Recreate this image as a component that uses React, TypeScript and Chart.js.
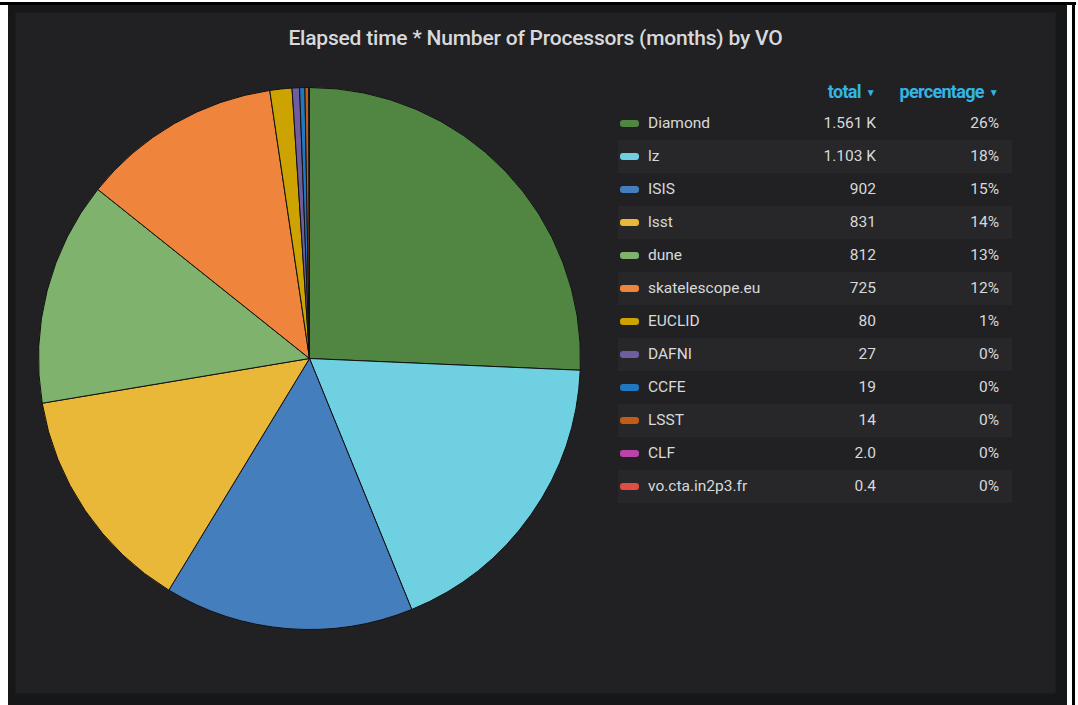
import React, { useEffect, useRef } from "react";
import { Chart, registerables } from "chart.js";

Chart.register(...registerables);

const TITLE = "Elapsed time * Number of Processors (months) by VO";
const categories = [
  "Diamond",
  "lz",
  "ISIS",
  "lsst",
  "dune",
  "skatelescope.eu",
  "EUCLID",
  "DAFNI",
  "CCFE",
  "LSST",
  "CLF",
  "vo.cta.in2p3.fr",
];
const totals = [1561, 1103, 902, 831, 812, 725, 80, 27, 19, 14, 2.0, 0.4];
const colors = [
  "#508642",
  "#6ED0E0",
  "#447EBC",
  "#EAB839",
  "#7EB26D",
  "#EF843C",
  "#CCA300",
  "#705DA0",
  "#1F78C1",
  "#C15C17",
  "#BA43A9",
  "#E24D42",
];
const headers = ["total", "percentage"];

const fmtTotal = (v: number) => {
  if (v >= 1000) return (v / 1000).toFixed(3) + " K";
  if (v >= 10) return v.toFixed(0);
  return v.toFixed(1);
};

export default function App() {
  const ref = useRef<HTMLCanvasElement | null>(null);
  useEffect(() => {
    if (!ref.current) return;
    const chart = new Chart(ref.current, {
      type: "pie",
      data: {
        labels: categories,
        datasets: [
          {
            data: totals,
            backgroundColor: colors,
            borderColor: "#111113",
            borderWidth: 1,
          },
        ],
      },
      options: {
        animation: false,
        responsive: false,
        maintainAspectRatio: false,
        layout: { padding: 0 },
        plugins: {
          legend: { display: false },
          tooltip: { enabled: false },
          title: { display: false },
        },
      },
    });
    return () => chart.destroy();
  }, []);

  const sum = totals.reduce((a, b) => a + b, 0);
  const font = "Roboto, 'Open Sans', sans-serif";

  return (
    <div
      style={{
        position: "absolute",
        left: 0,
        top: 0,
        width: 1078,
        height: 705,
        background: "#ffffff",
        overflow: "hidden",
        fontFamily: font,
      }}
    >
      {/* black frame lines */}
      <div style={{ position: "absolute", left: 0, top: 2, width: 1076, height: 3, background: "#000" }} />
      <div style={{ position: "absolute", left: 1072, top: 2, width: 3, height: 703, background: "#000" }} />
      {/* outer dark */}
      <div style={{ position: "absolute", left: 8, top: 5, width: 1059, height: 700, background: "#161719" }} />
      {/* panel */}
      <div
        style={{
          position: "absolute",
          left: 15,
          top: 12,
          width: 1041,
          height: 682,
          background: "#212124",
          border: "1px solid #1c1c1e",
          boxSizing: "border-box",
        }}
      />
      {/* title */}
      <div
        style={{
          position: "absolute",
          left: 15,
          width: 1041,
          top: 25,
          textAlign: "center",
          color: "#d8d9da",
          fontSize: 21,
          fontWeight: 500,
          lineHeight: "26px",
          letterSpacing: -0.2,
        }}
      >
        {TITLE}
      </div>
      {/* pie */}
      <canvas
        ref={ref}
        width={543}
        height={543}
        style={{ position: "absolute", left: 38, top: 87, width: 543, height: 543 }}
      />
      {/* legend table */}
      <div style={{ position: "absolute", left: 618, top: 76, width: 394 }}>
        <div style={{ position: "relative", height: 31, color: "#33b5e5", fontWeight: 700, fontSize: 18, letterSpacing: -0.7 }}>
          <div style={{ position: "absolute", right: 394 - 257, top: 5, whiteSpace: "nowrap" }}>
            {headers[0]}
            <span style={{ fontSize: 10, marginLeft: 5, position: "relative", top: -2 }}>▼</span>
          </div>
          <div style={{ position: "absolute", right: 394 - 380, top: 5, whiteSpace: "nowrap" }}>
            {headers[1]}
            <span style={{ fontSize: 10, marginLeft: 5, position: "relative", top: -2 }}>▼</span>
          </div>
        </div>
        {categories.map((c, i) => (
          <div
            key={c}
            style={{
              position: "relative",
              height: 33,
              background: i % 2 === 1 ? "#27272a" : "transparent",
              color: "#d8d9da",
              fontSize: 15.5,
            }}
          >
            <div
              style={{
                position: "absolute",
                left: 2,
                top: 13,
                width: 19,
                height: 7,
                borderRadius: 3,
                background: colors[i],
              }}
            />
            <div style={{ position: "absolute", left: 30, top: 6, lineHeight: "20px", whiteSpace: "nowrap" }}>{c}</div>
            <div style={{ position: "absolute", right: 394 - 258, top: 6, lineHeight: "20px" }}>{fmtTotal(totals[i])}</div>
            <div style={{ position: "absolute", right: 394 - 381, top: 6, lineHeight: "20px" }}>
              {Math.round((totals[i] / sum) * 100) + "%"}
            </div>
          </div>
        ))}
      </div>
    </div>
  );
}
